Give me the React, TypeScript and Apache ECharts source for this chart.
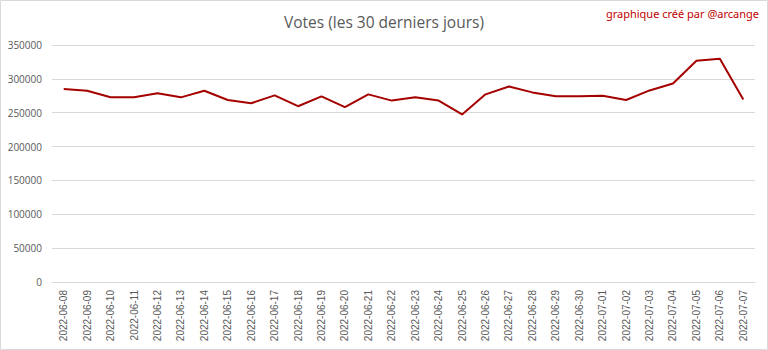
import React, { useEffect, useRef } from "react";
import * as echarts from "echarts";

const dates = [
  "2022-06-08", "2022-06-09", "2022-06-10", "2022-06-11", "2022-06-12", "2022-06-13",
  "2022-06-14", "2022-06-15", "2022-06-16", "2022-06-17", "2022-06-18", "2022-06-19",
  "2022-06-20", "2022-06-21", "2022-06-22", "2022-06-23", "2022-06-24", "2022-06-25",
  "2022-06-26", "2022-06-27", "2022-06-28", "2022-06-29", "2022-06-30", "2022-07-01",
  "2022-07-02", "2022-07-03", "2022-07-04", "2022-07-05", "2022-07-06", "2022-07-07",
];

const votes = [
  285000, 282500, 272800, 272700, 278600, 272700,
  282500, 268800, 264000, 275600, 259600, 274200,
  258200, 277100, 267900, 272700, 267900, 247500,
  277100, 288800, 280000, 274200, 274200, 275200,
  268800, 282900, 293100, 326700, 329600, 269400,
];

const titleText = "Votes (les 30 derniers jours)";
const creditText = "graphique créé par @arcange";

export default function App() {
  const ref = useRef<HTMLDivElement>(null);
  useEffect(() => {
    if (!ref.current) return;
    const chart = echarts.init(ref.current, null, { renderer: "svg" });
    chart.setOption({
      animation: false,
      backgroundColor: "#ffffff",
      title: {
        text: titleText,
        left: "center",
        top: 9,
        textStyle: {
          fontFamily: "Open Sans",
          fontSize: 15.5,
          fontWeight: "normal",
          color: "#595959",
        },
      },
      graphic: [
        {
          type: "rect",
          shape: { x: 0.5, y: 0.5, width: 767, height: 349 },
          style: { fill: "none", stroke: "#d9d9d9", lineWidth: 1 },
          silent: true,
        },
        {
          type: "text",
          right: 9,
          top: 8,
          style: {
            text: creditText,
            fill: "#c00000",
            font: "11px 'Noto Sans'",
          },
        },
      ],
      grid: { left: 52, right: 13, top: 45, bottom: 68 },
      xAxis: {
        type: "category",
        data: dates,
        boundaryGap: true,
        axisLine: { show: true, lineStyle: { color: "#d9d9d9", width: 1 } },
        axisTick: { show: false },
        axisLabel: {
          rotate: 90,
          interval: 0,
          color: "#595959",
          fontFamily: "Liberation Sans",
          fontSize: 10,
          margin: 8,
        },
      },
      yAxis: {
        type: "value",
        min: 0,
        max: 350000,
        interval: 50000,
        axisLine: { show: false },
        axisTick: { show: false },
        axisLabel: {
          color: "#595959",
          fontFamily: "Open Sans",
          fontSize: 10,
          margin: 10,
          formatter: (v: number) => String(v),
        },
        splitLine: { lineStyle: { color: "#d9d9d9", width: 1 } },
      },
      series: [
        {
          type: "line",
          data: votes,
          symbol: "none",
          lineStyle: { color: "#a50000", width: 2 },
        },
      ],
    });
    return () => chart.dispose();
  }, []);
  return (
    <div
      ref={ref}
      style={{ position: "fixed", left: 0, top: 0, width: 768, height: 350 }}
    />
  );
}
